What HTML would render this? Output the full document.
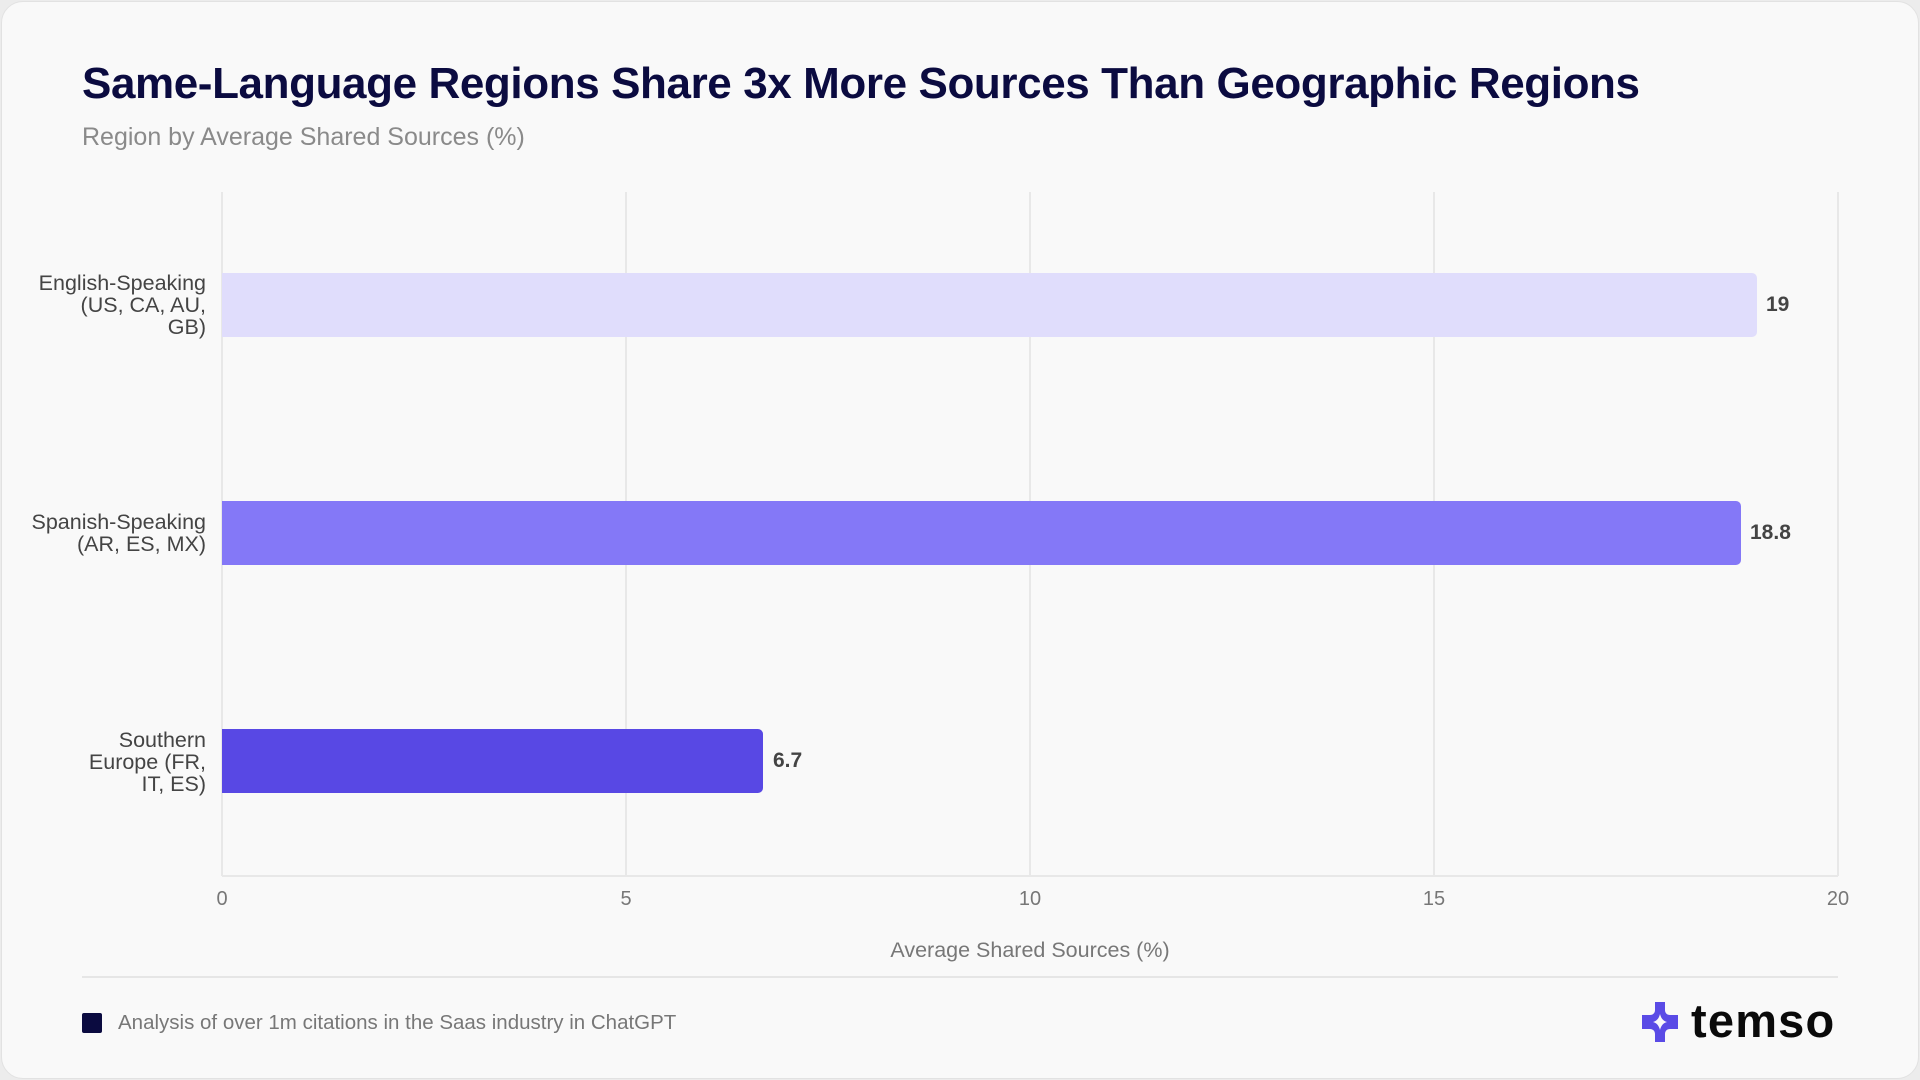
<!DOCTYPE html>
<html><head><meta charset="utf-8"><style>
*{margin:0;padding:0;box-sizing:border-box}
body{width:1920px;height:1080px;background:#ececec;font-family:"Liberation Sans",sans-serif;overflow:hidden;position:relative}
.card{position:absolute;left:1px;top:1px;width:1918px;height:1078px;background:#f9f9f9;border:1px solid #e2e2e2;border-radius:22px}
.abs{position:absolute;white-space:nowrap}
.title{left:82px;top:59px;font-size:44px;font-weight:bold;color:#0b0b40;letter-spacing:-0.4px}
.sub{left:82px;top:123px;font-size:25px;color:#8a8a8a}
.grid{position:absolute;top:192px;height:684px;width:2px;background:#e8e8e8}
.bar{position:absolute;left:222px;height:64px;border-radius:0 5px 5px 0}
.cat{position:absolute;right:1714px;text-align:right;font-size:21.5px;line-height:22px;color:#444}
.val{position:absolute;font-size:21px;font-weight:bold;color:#444}
.tick{position:absolute;top:888px;font-size:20px;color:#777;width:60px;margin-left:-30px;text-align:center}
</style></head><body>
<div class="card"></div>
<div class="abs title">Same-Language Regions Share 3x More Sources Than Geographic Regions</div>
<div class="abs sub">Region by Average Shared Sources (%)</div>
<div class="grid" style="left:221px"></div>
<div class="grid" style="left:625px"></div>
<div class="grid" style="left:1029px"></div>
<div class="grid" style="left:1433px"></div>
<div class="grid" style="left:1837px"></div>
<div style="position:absolute;left:222px;top:875px;width:1616px;height:2px;background:#e8e8e8"></div>
<div class="bar" style="top:273px;width:1535px;background:#e0ddfc"></div>
<div class="bar" style="top:501px;width:1519px;background:#8478f7"></div>
<div class="bar" style="top:729px;width:541px;background:#5848e4"></div>
<div class="cat" style="top:272px">English-Speaking<br>(US, CA, AU,<br>GB)</div>
<div class="cat" style="top:511px">Spanish-Speaking<br>(AR, ES, MX)</div>
<div class="cat" style="top:729px">Southern<br>Europe (FR,<br>IT, ES)</div>
<div class="val" style="left:1766px;top:293px">19</div>
<div class="val" style="left:1750px;top:521px">18.8</div>
<div class="val" style="left:773px;top:749px">6.7</div>
<div class="tick" style="left:222px">0</div>
<div class="tick" style="left:626px">5</div>
<div class="tick" style="left:1030px">10</div>
<div class="tick" style="left:1434px">15</div>
<div class="tick" style="left:1838px">20</div>
<div class="abs" style="left:0;width:2060px;text-align:center;top:938px;font-size:21.5px;color:#777">Average Shared Sources (%)</div>
<div style="position:absolute;left:82px;top:976px;width:1756px;height:2px;background:#e6e6e6"></div>
<div style="position:absolute;left:82px;top:1013px;width:20px;height:20px;background:#0b0b40;border-radius:2px"></div>
<div class="abs" style="left:118px;top:1011px;font-size:20.5px;color:#777">Analysis of over 1m citations in the Saas industry in ChatGPT</div>
<svg style="position:absolute;left:1642px;top:1002px" width="36" height="40" viewBox="0 0 36 40">
<path d="M13 0h10v8c0 3 2 5 5 5h8v14h-8c-3 0-5 2-5 5v8H13v-8c0-3-2-5-5-5H0V13h8c3 0 5-2 5-5z" fill="#5a4be6"/>
<path d="M18 12c1 4 3 7 7 8c-4 1-6 4-7 8c-1-4-3-7-7-8c4-1 6-4 7-8z" fill="#f9f9f9"/>
</svg>
<div class="abs" style="left:1691px;top:993px;font-size:47px;font-weight:bold;color:#0a0a0a;letter-spacing:1.2px">temso</div>
</body></html>
